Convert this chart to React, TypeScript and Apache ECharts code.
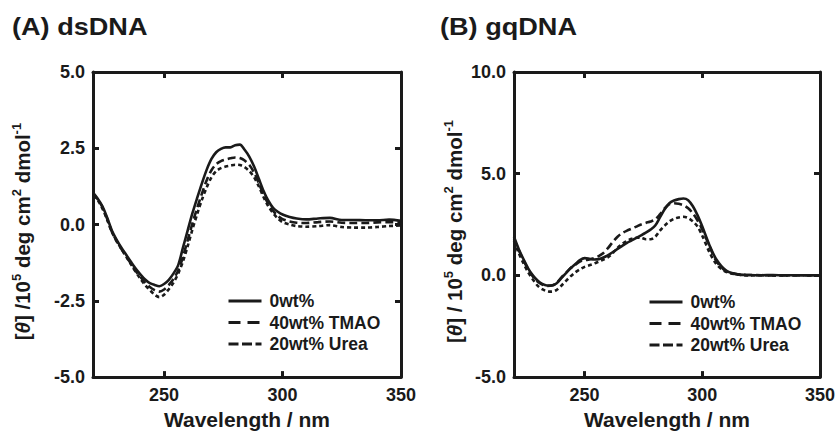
import React, { useEffect, useRef } from "react";
import * as echarts from "echarts";

const wavelengths = [
  220, 222, 224, 226, 228, 230, 232, 234, 236, 238, 240, 242, 244, 246, 248, 250, 252, 254, 256, 258,
  260, 262, 264, 266, 268, 270, 272, 274, 276, 278, 280, 282, 284, 286, 288, 290, 292, 294, 296, 298,
  300, 303, 306, 310, 315, 320, 325, 330, 335, 340, 345, 350,
];

const seriesNames = ["0wt%", "40wt% TMAO", "20wt% Urea"];

// Panel A: dsDNA
const dsWater = [
  1.05, 0.85, 0.6, 0.22, -0.2, -0.5, -0.76, -0.99, -1.22, -1.44, -1.63, -1.8, -1.92, -1.98, -2.02, -1.95, -1.81, -1.6, -1.32, -0.75,
  -0.18, 0.38, 0.88, 1.36, 1.8, 2.15, 2.37, 2.48, 2.53, 2.53, 2.6, 2.62, 2.45, 2.22, 1.9, 1.5, 1.1, 0.78, 0.55, 0.42,
  0.33, 0.25, 0.2, 0.17, 0.2, 0.22, 0.15, 0.15, 0.14, 0.14, 0.16, 0.12,
];
const dsTmao = [
  1.0, 0.83, 0.56, 0.18, -0.24, -0.54, -0.8, -1.04, -1.28, -1.52, -1.72, -1.9, -2.05, -2.15, -2.2, -2.13, -1.98, -1.78, -1.5, -1.05,
  -0.5, 0.05, 0.55, 1.02, 1.45, 1.78, 1.98, 2.08, 2.13, 2.17, 2.2, 2.18, 2.1, 1.95, 1.7, 1.35, 0.98, 0.68, 0.45, 0.28,
  0.18, 0.1, 0.06, 0.05, 0.08, 0.1, 0.06, 0.05, 0.05, 0.07, 0.08, 0.05,
];
const dsUrea = [
  0.95, 0.8, 0.52, 0.15, -0.25, -0.55, -0.8, -1.05, -1.3, -1.55, -1.78, -1.98, -2.15, -2.3, -2.38, -2.3, -2.12, -1.9, -1.6, -1.2,
  -0.7, -0.15, 0.35, 0.82, 1.22, 1.55, 1.75, 1.85, 1.9, 1.93, 1.96, 1.95, 1.88, 1.75, 1.55, 1.25, 0.9, 0.6, 0.38, 0.2,
  0.08, 0.0, -0.05, -0.07, -0.05, -0.02, -0.08, -0.1, -0.1, -0.08, -0.05, -0.03,
];

// Panel B: gqDNA
const gqWater = [
  1.9, 1.3, 0.8, 0.35, 0.0, -0.25, -0.42, -0.5, -0.5, -0.4, -0.15, 0.1, 0.35, 0.55, 0.75, 0.85, 0.82, 0.78, 0.8, 0.88,
  1.0, 1.15, 1.3, 1.45, 1.6, 1.72, 1.85, 1.97, 2.1, 2.25, 2.45, 2.85, 3.25, 3.55, 3.68, 3.75, 3.78, 3.7, 3.4, 2.95,
  2.4, 1.5, 0.78, 0.25, 0.05, 0.02, 0.01, 0.02, 0.0, 0.01, 0.0, 0.0,
];
const gqTmao = [
  1.8, 1.25, 0.75, 0.3, -0.05, -0.3, -0.45, -0.52, -0.5, -0.38, -0.12, 0.12, 0.35, 0.52, 0.68, 0.75, 0.78, 0.85, 0.95, 1.1,
  1.35, 1.65, 1.9, 2.08, 2.2, 2.3, 2.4, 2.5, 2.58, 2.65, 2.75, 3.0, 3.3, 3.5, 3.55, 3.52, 3.45, 3.3, 3.05, 2.7,
  2.25, 1.45, 0.7, 0.22, 0.05, 0.02, 0.01, 0.0, 0.01, 0.0, 0.01, 0.0,
];
const gqUrea = [
  1.7, 1.1, 0.6, 0.15, -0.2, -0.5, -0.68, -0.78, -0.8, -0.72, -0.52, -0.28, -0.05, 0.15, 0.3, 0.42, 0.5, 0.58, 0.68, 0.78,
  0.9, 1.1, 1.35, 1.55, 1.7, 1.8, 1.85, 1.85, 1.78, 1.78, 1.9, 2.2, 2.45, 2.65, 2.78, 2.85, 2.88, 2.82, 2.65, 2.4,
  1.95, 1.15, 0.55, 0.18, 0.05, 0.0, 0.01, 0.0, 0.0, 0.01, 0.0, 0.0,
];

const xTicks = [250, 300, 350];

const INK = "#1a1a1a";
const FONT = "'Liberation Sans', Arial, Helvetica, sans-serif";
const lineDashes: any[] = ["solid", [8, 4], [4, 3]];
const legendDashes: any[] = ["solid", [12, 7], [10, 3.5]];

function pairs(ys: number[]) {
  return wavelengths.map((w, i) => [w, ys[i]]);
}

export default function App() {
  const ref = useRef<HTMLDivElement>(null);

  useEffect(() => {
    if (!ref.current) return;
    const chart = echarts.init(ref.current, undefined, { renderer: "svg" });

    const grids = [
      { left: 93, top: 72, width: 308, height: 306 },
      { left: 514, top: 72, width: 307, height: 306 },
    ];

    const axisLine = { show: true, onZero: false, lineStyle: { color: INK, width: 3 } };
    const tickStyle = { inside: true, length: 6, lineStyle: { color: INK, width: 3 } };
    const labelStyle = { color: INK, fontSize: 18, fontWeight: "bold", fontFamily: FONT };

    const xAxes: any[] = [];
    const yAxes: any[] = [];
    const yRanges = [
      { min: -5, max: 5, interval: 2.5, gap: 58 },
      { min: -5, max: 10, interval: 5, gap: 43 },
    ];
    const yNames = [
      "[{it|θ}] /10{sup|5} deg cm{sup|2} dmol{sup|-1}",
      "[{it|θ}] / 10{sup|5} deg cm{sup|2} dmol{sup|-1}",
    ];

    [0, 1].forEach((g) => {
      xAxes.push({
        type: "value",
        gridIndex: g,
        position: "bottom",
        min: 220,
        max: 350,
        axisLine,
        axisTick: { ...tickStyle, customValues: xTicks },
        axisLabel: { ...labelStyle, margin: 9, customValues: xTicks, formatter: (v: number) => String(v) },
        splitLine: { show: false },
        name: "Wavelength / nm",
        nameLocation: "middle",
        nameGap: 28,
        nameTextStyle: { color: INK, fontSize: 21, fontWeight: "bold", fontFamily: FONT },
      });
      xAxes.push({
        type: "value",
        gridIndex: g,
        position: "top",
        min: 220,
        max: 350,
        axisLine,
        axisTick: { ...tickStyle, customValues: [250, 300] },
        axisLabel: { show: false },
        splitLine: { show: false },
      });
      const r = yRanges[g];
      yAxes.push({
        type: "value",
        gridIndex: g,
        position: "left",
        min: r.min,
        max: r.max,
        interval: r.interval,
        axisLine,
        axisTick: tickStyle,
        axisLabel: { ...labelStyle, margin: 8, formatter: (v: number) => v.toFixed(1) },
        splitLine: { show: false },
        name: yNames[g],
        nameLocation: "middle",
        nameGap: r.gap,
        nameRotate: 90,
        nameTextStyle: {
          color: INK,
          fontSize: 20.5,
          fontWeight: "bold",
          fontFamily: FONT,
          lineHeight: 25,
          padding: [0, 0, 0, -14],
          rich: {
            it: { fontSize: 20.5, fontWeight: "bold", fontStyle: "italic", fontFamily: FONT, color: INK, lineHeight: 25 },
            sup: { fontSize: 13, fontWeight: "bold", fontFamily: FONT, color: INK, verticalAlign: "top", lineHeight: 25 },
          },
        },
      });
      yAxes.push({
        type: "value",
        gridIndex: g,
        position: "right",
        min: r.min,
        max: r.max,
        interval: r.interval,
        axisLine,
        axisTick: tickStyle,
        axisLabel: { show: false },
        splitLine: { show: false },
      });
    });

    const panelData = [
      [dsWater, dsTmao, dsUrea],
      [gqWater, gqTmao, gqUrea],
    ];

    const series: any[] = [];
    panelData.forEach((set, g) => {
      set.forEach((ys, k) => {
        series.push({
          type: "line",
          name: seriesNames[k],
          xAxisIndex: g * 2,
          yAxisIndex: g * 2,
          data: pairs(ys),
          symbol: "none",
          showSymbol: false,
          smooth: 0.3,
          lineStyle: { color: INK, width: 2.6, type: lineDashes[k] },
          itemStyle: { color: INK },
          emphasis: { disabled: true },
          z: 3 - k,
        });
      });
    });

    const legendPositions = [
      { left: 227, top: 292 },
      { left: 648, top: 293 },
    ];
    const legends = legendPositions.map((p) => ({
      ...p,
      orient: "vertical",
      padding: 0,
      itemWidth: 33,
      itemHeight: 14,
      itemGap: 3.5,
      selectedMode: false,
      itemStyle: { opacity: 0, color: "transparent", borderWidth: 0 },
      textStyle: { color: INK, fontSize: 17.5, lineHeight: 17, fontWeight: "bold", fontFamily: FONT, padding: [0, 0, 0, 3] },
      data: seriesNames.map((n, k) => ({
        name: n,
        itemStyle: { opacity: 0, color: "transparent", borderWidth: 0 },
        lineStyle: { color: INK, width: 3, type: legendDashes[k], opacity: 1 },
      })),
    }));

    chart.setOption({
      animation: false,
      backgroundColor: "#ffffff",
      grid: grids,
      xAxis: xAxes,
      yAxis: yAxes,
      series,
      legend: legends,
      graphic: [
        {
          type: "text",
          x: 12,
          y: 15,
          scaleX: 1.13,
          style: { text: "(A) dsDNA", fill: INK, fontSize: 24, fontWeight: "bold", fontFamily: FONT, textVerticalAlign: "top" },
        },
        {
          type: "text",
          x: 440,
          y: 15,
          scaleX: 1.13,
          style: { text: "(B) gqDNA", fill: INK, fontSize: 24, fontWeight: "bold", fontFamily: FONT, textVerticalAlign: "top" },
        },
      ],
    });

    return () => chart.dispose();
  }, []);

  return <div ref={ref} style={{ width: 838, height: 435, position: "absolute", left: 0, top: 0 }} />;
}
